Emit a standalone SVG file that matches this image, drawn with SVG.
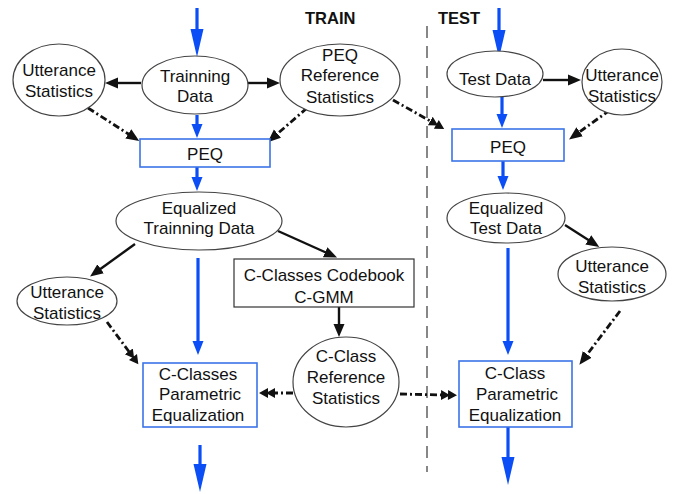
<svg xmlns="http://www.w3.org/2000/svg" width="677" height="494" viewBox="0 0 677 494">
  <style>
    text { font-family: "Liberation Sans", Arial, sans-serif; font-size: 17px; fill: #111; text-anchor: middle; }
    .hdr { font-weight: bold; font-size: 16.5px; text-anchor: start; }
    .ell { fill: #fff; stroke: #444; stroke-width: 1.2; }
    .box { fill: #fff; stroke: #3d74e8; stroke-width: 1.6; }
    .kbox { fill: #fff; stroke: #333; stroke-width: 1.2; }
    .flow { stroke: #0b4ef6; stroke-width: 3.2; fill: none; }
    .solid { stroke: #111; stroke-width: 2.4; fill: none; }
    .dd { stroke: #111; stroke-width: 2.8; fill: none; stroke-dasharray: 7 3 2 3; }
    .split { stroke: #555; stroke-width: 1.4; stroke-dasharray: 12 8; fill: none; }
  </style>
  <defs>
    <marker id="blueBig" markerUnits="userSpaceOnUse" markerWidth="30" markerHeight="14" refX="2" refY="7" orient="auto">
      <path d="M0,0.5 L28,7 L0,13.5 z" fill="#0b4ef6"/>
    </marker>
    <marker id="blueSmall" markerUnits="userSpaceOnUse" markerWidth="16" markerHeight="12" refX="2" refY="6" orient="auto">
      <path d="M0,0.5 L14,6 L0,11.5 z" fill="#0b4ef6"/>
    </marker>
    <marker id="blk" markerUnits="userSpaceOnUse" markerWidth="14" markerHeight="12" refX="2" refY="6" orient="auto">
      <path d="M0,0.5 L13,6 L0,11.5 z" fill="#111"/>
    </marker>
    <marker id="blk2" markerUnits="userSpaceOnUse" markerWidth="18" markerHeight="12" refX="2" refY="6" orient="auto">
      <path d="M0,1 L9,6 L0,11 z M7,1 L16,6 L7,11 z" fill="#111"/>
    </marker>
  </defs>

  <!-- section headers and divider -->
  <text class="hdr" x="305" y="24">TRAIN</text>
  <text class="hdr" x="438" y="24">TEST</text>
  <line class="split" x1="427" y1="26" x2="427" y2="472"/>

  <!-- connectors -->
  <g id="connectors">
    <!-- main data flow (blue) -->
    <line class="flow" x1="197" y1="8" x2="197" y2="31" marker-end="url(#blueBig)"/>
    <line class="flow" x1="197" y1="115" x2="197" y2="126" marker-end="url(#blueSmall)"/>
    <line class="flow" x1="197" y1="167" x2="197" y2="179" marker-end="url(#blueSmall)"/>
    <line class="flow" x1="198" y1="258" x2="198" y2="343" marker-end="url(#blueSmall)"/>
    <line class="flow" x1="200" y1="445" x2="200" y2="466" marker-end="url(#blueBig)"/>
    <line class="flow" x1="499" y1="8" x2="499" y2="32" marker-end="url(#blueBig)"/>
    <line class="flow" x1="502" y1="97" x2="502" y2="116" marker-end="url(#blueSmall)"/>
    <line class="flow" x1="503" y1="161" x2="503" y2="178" marker-end="url(#blueSmall)"/>
    <line class="flow" x1="508" y1="248" x2="508" y2="343" marker-end="url(#blueSmall)"/>
    <line class="flow" x1="508" y1="427" x2="508" y2="459" marker-end="url(#blueBig)"/>

    <!-- statistics extraction (solid black) -->
    <line class="solid" x1="141" y1="83" x2="116" y2="83" marker-end="url(#blk)"/>
    <line class="solid" x1="246" y1="83" x2="269" y2="83" marker-end="url(#blk)"/>
    <line class="solid" x1="543" y1="80" x2="570" y2="80" marker-end="url(#blk)"/>
    <line class="solid" x1="135" y1="244" x2="99" y2="270" marker-end="url(#blk)"/>
    <line class="solid" x1="278" y1="231" x2="327" y2="253" marker-end="url(#blk)"/>
    <line class="solid" x1="339" y1="307" x2="339" y2="326" marker-end="url(#blk)"/>
    <line class="solid" x1="565" y1="225" x2="590" y2="241" marker-end="url(#blk)"/>

    <!-- statistics feeding equalizers (dash-dot) -->
    <line class="dd" x1="88" y1="108" x2="130" y2="135" marker-end="url(#blk)"/>
    <line class="dd" x1="307" y1="108" x2="276" y2="135" marker-end="url(#blk)"/>
    <line class="dd" x1="393" y1="100" x2="432" y2="122" marker-end="url(#blk2)"/>
    <line class="dd" x1="610" y1="110" x2="578" y2="133" marker-end="url(#blk)"/>
    <line class="dd" x1="107" y1="322" x2="130" y2="353" marker-end="url(#blk2)"/>
    <line class="dd" x1="293" y1="393" x2="273" y2="393" marker-end="url(#blk2)"/>
    <line class="dd" x1="400" y1="394" x2="443" y2="395" marker-end="url(#blk2)"/>
    <line class="dd" x1="620" y1="311" x2="586" y2="356" marker-end="url(#blk)"/>
  </g>

  <!-- TRAIN side -->
  <g id="utt-train-top">
    <ellipse class="ell" cx="59" cy="80" rx="46" ry="36"/>
    <text x="59" y="76">Utterance</text>
    <text x="59" y="97">Statistics</text>
  </g>
  <g id="training-data">
    <ellipse class="ell" cx="195" cy="85" rx="53" ry="29"/>
    <text x="195" y="82">Trainning</text>
    <text x="195" y="102">Data</text>
  </g>
  <g id="peq-ref-stats">
    <ellipse class="ell" cx="340" cy="80" rx="60" ry="36"/>
    <text x="340" y="61">PEQ</text>
    <text x="340" y="81">Reference</text>
    <text x="340" y="103">Statistics</text>
  </g>
  <g id="peq-train">
    <rect class="box" x="140" y="139" width="130" height="28"/>
    <text x="205" y="160">PEQ</text>
  </g>
  <g id="eq-train-data">
    <ellipse class="ell" cx="199" cy="221" rx="83" ry="29"/>
    <text x="199" y="214">Equalized</text>
    <text x="199" y="234">Trainning Data</text>
  </g>
  <g id="utt-train-low">
    <ellipse class="ell" cx="67" cy="301" rx="50" ry="24"/>
    <text x="67" y="298">Utterance</text>
    <text x="67" y="319">Statistics</text>
  </g>
  <g id="codebook">
    <rect class="kbox" x="234" y="259" width="180" height="48"/>
    <text x="324" y="281">C-Classes Codebook</text>
    <text x="324" y="303">C-GMM</text>
  </g>
  <g id="cclass-ref-stats">
    <ellipse class="ell" cx="346" cy="382" rx="53" ry="45"/>
    <text x="346" y="362">C-Class</text>
    <text x="346" y="383">Reference</text>
    <text x="346" y="404">Statistics</text>
  </g>
  <g id="cclasses-peq">
    <rect class="box" x="143" y="363" width="114" height="64"/>
    <text x="198" y="380">C-Classes</text>
    <text x="200" y="400">Parametric</text>
    <text x="198" y="421">Equalization</text>
  </g>

  <!-- TEST side -->
  <g id="test-data">
    <ellipse class="ell" cx="495" cy="74" rx="48" ry="23"/>
    <text x="495" y="85">Test Data</text>
  </g>
  <g id="utt-test-top">
    <ellipse class="ell" cx="622" cy="82" rx="40" ry="33"/>
    <text x="622" y="81">Utterance</text>
    <text x="622" y="102">Statistics</text>
  </g>
  <g id="peq-test">
    <rect class="box" x="452" y="129" width="112" height="32"/>
    <text x="508" y="153">PEQ</text>
  </g>
  <g id="eq-test-data">
    <ellipse class="ell" cx="506" cy="218" rx="59" ry="25"/>
    <text x="506" y="214">Equalized</text>
    <text x="506" y="234">Test Data</text>
  </g>
  <g id="utt-test-low">
    <ellipse class="ell" cx="612" cy="274" rx="54" ry="27"/>
    <text x="612" y="272">Utterance</text>
    <text x="612" y="293">Statistics</text>
  </g>
  <g id="cclass-peq">
    <rect class="box" x="459" y="361" width="113" height="66"/>
    <text x="515" y="379">C-Class</text>
    <text x="517" y="400">Parametric</text>
    <text x="515" y="421">Equalization</text>
  </g>
</svg>
